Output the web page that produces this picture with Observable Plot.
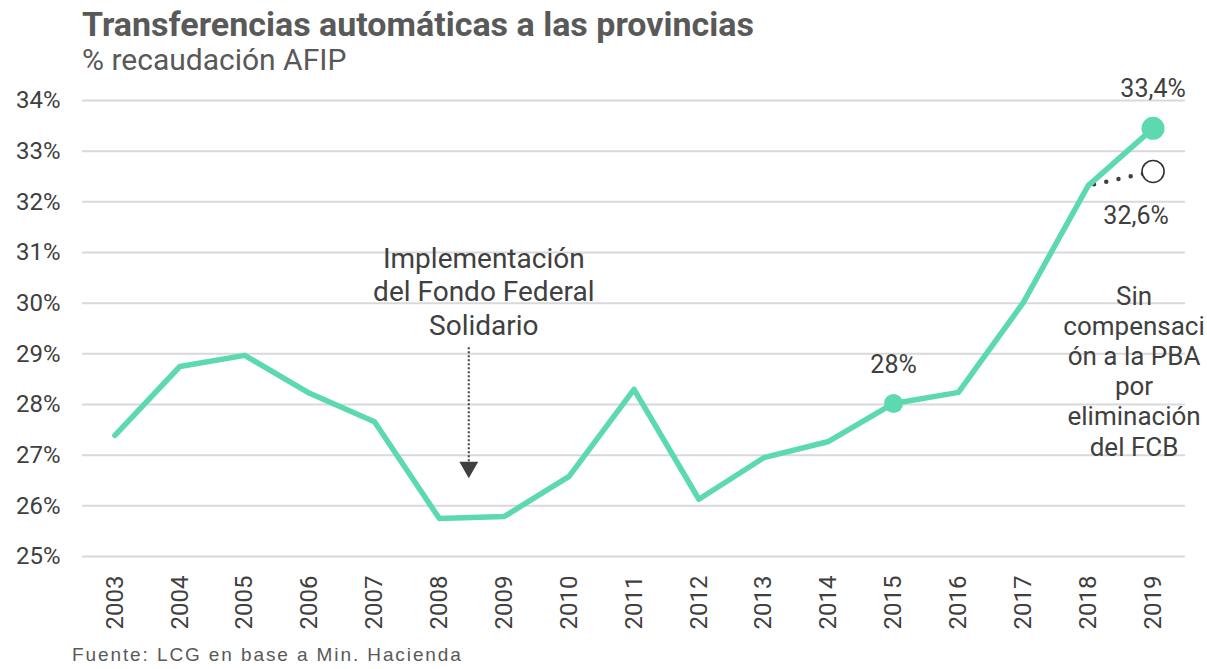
<!DOCTYPE html>
<html>
<head>
<meta charset="utf-8">
<script src="https://cdn.jsdelivr.net/npm/d3@7"></script>
<script src="https://cdn.jsdelivr.net/npm/@observablehq/plot@0.6"></script>
<style>
  html, body { margin: 0; padding: 0; background: #fff; }
  body { width: 1207px; height: 669px; position: relative; overflow: hidden; font-family: Roboto, "Noto Sans", sans-serif; }
  #title { position: absolute; left: 82px; top: 4px; font-size: 34px; line-height: 40px; font-weight: bold; color: #595959; white-space: nowrap; }
  #subtitle { position: absolute; left: 82px; top: 42px; font-size: 30px; line-height: 36px; color: #595959; white-space: nowrap; }
  #chart { position: absolute; left: 0; top: 80px; }
  #caption { position: absolute; left: 72px; top: 644px; font-family: "Liberation Sans", sans-serif; font-size: 19px; letter-spacing: 1.9px; color: #595959; white-space: nowrap; }
</style>
</head>
<body>
<div id="title">Transferencias automáticas a las provincias</div>
<div id="subtitle">% recaudación AFIP</div>
<div id="chart"></div>
<div id="caption">Fuente: LCG en base a Min. Hacienda</div>
<script>
const years = [2003, 2004, 2005, 2006, 2007, 2008, 2009, 2010, 2011, 2012, 2013, 2014, 2015, 2016, 2017, 2018, 2019];
const values = [27.39, 28.75, 28.97, 28.22, 27.66, 25.75, 25.79, 26.58, 28.30, 26.13, 26.95, 27.27, 28.02, 28.24, 30.01, 32.32, 33.45];
const yTicks = [25, 26, 27, 28, 29, 30, 31, 32, 33, 34];

// highlighted points
const hl2015 = {year: 2015, value: 28.02, label: "28%"};
const hl2019 = {year: 2019, value: 33.45, label: "33,4%"};

// counterfactual (sin compensación)
const altYears = [2018, 2019];
const altValues = [32.32, 32.6];
const altLabel = "32,6%";

// annotations
const fondoYear = 2008.5;
const fondoArrowTop = 29.12;
const fondoArrowBottom = 26.78;
const fondoText = "Implementación\ndel Fondo Federal\nSolidario";
const fondoTextY = 30.25;
const pbaText = "Sin\ncompensaci\nón a la PBA\npor\neliminación\ndel FCB";
const pbaTextY = 28.67;

const data = years.map((y, i) => ({year: y, value: values[i]}));
const alt = altYears.map((y, i) => ({year: y, value: altValues[i]}));

const green = "#5cd9b0";
const textColor = "#404040";

const chart = Plot.plot({
  width: 1207,
  height: 560,
  marginLeft: 82,
  marginRight: 22,
  marginTop: 20,
  marginBottom: 84,
  style: {fontFamily: "Roboto, sans-serif", fontSize: "24px", color: textColor, background: "white", overflow: "visible"},
  x: {domain: [2002.5, 2019.5]},
  y: {domain: [25, 34]},
  marks: [
    Plot.gridY(yTicks, {stroke: "#d9d9d9", strokeOpacity: 1, strokeWidth: 2}),
    Plot.axisY(yTicks, {tickSize: 0, tickPadding: 22, tickFormat: d => d + "%", fontSize: 24, fill: textColor, label: null}),
    Plot.axisX(years, {tickSize: 0, tickPadding: 19, tickRotate: -90, tickFormat: d => String(d), fontSize: 24, fill: textColor, label: null}),
    Plot.line(alt, {x: "year", y: "value", stroke: "#404040", strokeWidth: 4.5, strokeLinecap: "round", strokeDasharray: "0,12.5", strokeDashoffset: -6}),
    Plot.line(data, {x: "year", y: "value", stroke: green, strokeWidth: 5.5, strokeLinecap: "round", strokeLinejoin: "round"}),
    Plot.dot([alt[1]], {x: "year", y: "value", r: 11, fill: "white", stroke: "#333", strokeWidth: 1.6}),
    Plot.dot([hl2015], {x: "year", y: "value", r: 9.5, fill: green, stroke: "none"}),
    Plot.dot([hl2019], {x: "year", y: "value", r: 11.5, fill: green, stroke: "none"}),
    Plot.text([hl2015], {x: "year", y: "value", text: "label", dy: -38, fontSize: 25, fill: textColor}),
    Plot.text([hl2019], {x: "year", y: "value", text: "label", dy: -39, fontSize: 25, fill: textColor}),
    Plot.text([alt[1]], {x: "year", y: "value", text: () => altLabel, dx: -17, dy: 45, fontSize: 25, fill: textColor}),
    Plot.ruleX([fondoYear], {y1: fondoArrowTop, y2: fondoArrowBottom, stroke: "#404040", strokeWidth: 2, strokeDasharray: "2,2", dx: -3}),
    Plot.dot([fondoYear], {x: d => d, y: () => fondoArrowBottom, symbol: "triangle", r: 7, rotate: 180, fill: "#404040", stroke: "none", dx: -3, dy: 1}),
    Plot.text([fondoText], {x: () => fondoYear, y: () => fondoTextY, text: d => d, fontSize: 28, lineHeight: 1.2, fill: textColor, dx: 12}),
    Plot.text([pbaText], {x: () => 2019, y: () => pbaTextY, text: d => d, fontSize: 26, lineHeight: 1.16, fill: textColor, dx: -19})
  ]
});
document.getElementById("chart").appendChild(chart);
</script>
</body>
</html>
